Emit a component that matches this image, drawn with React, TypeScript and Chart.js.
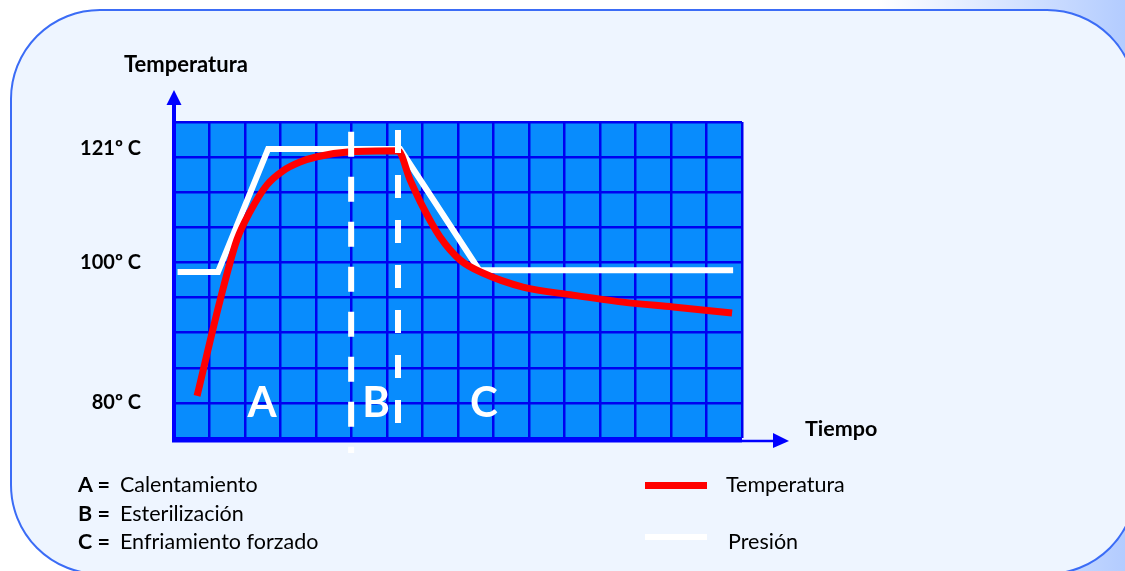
import React, { useEffect, useRef } from "react";
import { Chart, registerables } from "chart.js";

Chart.register(...registerables);

// grid units: x 0..16 columns, y 0..9 rows
const xMin = 0;
const xMax = 16;
const yMin = 0;
const yMax = 9;

const tickValues = [1, 5, 8.25];
const tickLabels = ["80º C", "100º C", "121º C"];

const presionX = [0.1, 1.24, 2.65, 6.37, 8.6, 15.75];
const presionY = [4.73, 4.73, 8.23, 8.23, 4.78, 4.78];

const tempX = [0.65, 1.3, 1.77, 2.14, 2.62, 3.07, 3.55, 4.03, 4.96, 6.31, 6.65, 7.01, 7.49, 8.06, 8.7, 9.83, 11.24, 12.65, 14.06, 15.72];
const tempY = [1.2, 3.93, 5.64, 6.44, 7.21, 7.61, 7.86, 8.01, 8.15, 8.18, 7.35, 6.58, 5.73, 5.07, 4.7, 4.3, 4.07, 3.87, 3.73, 3.56];

const dash1X = [4.99, 4.99];
const dash1Y = [8.72, -0.43];
const dash2X = [6.31, 6.31];
const dash2Y = [8.77, 0.43];

const phaseLabels = ["A", "B", "C"];
const legendKeys = ["A =", "B =", "C ="];
const legendTexts = ["Calentamiento", "Esterilización", "Enfriamiento forzado"];
const seriesNames = ["Temperatura", "Presión"];

const FONT = "Lato, 'Open Sans', sans-serif";

const pts = (xs: number[], ys: number[]) => xs.map((x, i) => ({ x, y: ys[i] }));

const decorPlugin = {
  id: "decor",
  beforeDraw(chart: any) {
    const { ctx, chartArea: a } = chart;
    ctx.save();
    ctx.fillStyle = "#088cfd";
    ctx.fillRect(a.left, a.top, a.right - a.left, a.bottom - a.top);
    ctx.restore();
  },
  afterDraw(chart: any) {
    const { ctx, chartArea: a } = chart;
    ctx.save();
    ctx.strokeStyle = "#0000ff";
    ctx.fillStyle = "#0000ff";
    // y axis
    ctx.lineWidth = 4;
    ctx.beginPath();
    ctx.moveTo(a.left, a.bottom + 3);
    ctx.lineTo(a.left, 103);
    ctx.stroke();
    ctx.beginPath();
    ctx.moveTo(a.left - 7.5, 105);
    ctx.lineTo(a.left + 7.5, 105);
    ctx.lineTo(a.left, 90);
    ctx.closePath();
    ctx.fill();
    // x axis
    ctx.lineWidth = 5;
    ctx.beginPath();
    ctx.moveTo(a.left - 2, a.bottom + 2);
    ctx.lineTo(a.right, a.bottom + 2);
    ctx.stroke();
    ctx.lineWidth = 2.5;
    ctx.beginPath();
    ctx.moveTo(a.right, a.bottom + 3);
    ctx.lineTo(776, a.bottom + 3);
    ctx.stroke();
    ctx.beginPath();
    ctx.moveTo(773, a.bottom - 5);
    ctx.lineTo(773, a.bottom + 10);
    ctx.lineTo(789, a.bottom + 3);
    ctx.closePath();
    ctx.fill();
    ctx.restore();
  },
};

export default function App() {
  const ref = useRef<HTMLCanvasElement>(null);

  useEffect(() => {
    if (!ref.current) return;
    const chart = new Chart(ref.current, {
      type: "line",
      data: {
        datasets: [
          {
            label: "dash1",
            data: pts(dash1X, dash1Y),
            borderColor: "#ffffff",
            borderWidth: 6,
            borderDash: [25, 20],
            pointRadius: 0,
            clip: false as any,
            order: 0,
          },
          {
            label: "dash2",
            data: pts(dash2X, dash2Y),
            borderColor: "#ffffff",
            borderWidth: 6,
            borderDash: [23, 22],
            pointRadius: 0,
            clip: false as any,
            order: 0,
          },
          {
            label: seriesNames[0],
            data: pts(tempX, tempY),
            borderColor: "#ff0000",
            borderWidth: 7,
            cubicInterpolationMode: "monotone",
            pointRadius: 0,
            order: 1,
          },
          {
            label: seriesNames[1],
            data: pts(presionX, presionY),
            borderColor: "#ffffff",
            borderWidth: 6,
            tension: 0,
            pointRadius: 0,
            order: 2,
          },
        ],
      },
      options: {
        animation: false,
        responsive: false,
        events: [],
        layout: { padding: { top: 122, right: 383, bottom: 133, left: 0 } },
        plugins: { legend: { display: false }, tooltip: { enabled: false }, title: { display: false } },
        scales: {
          x: {
            type: "linear",
            min: xMin,
            max: xMax,
            ticks: { display: false, stepSize: 1 },
            grid: { color: "#0000f0", lineWidth: 2.5, drawTicks: false },
            border: { display: false },
            afterFit: (s: any) => { s.height = 0; },
          },
          y: {
            type: "linear",
            position: "left",
            min: yMin,
            max: yMax,
            ticks: { display: false, stepSize: 1 },
            grid: { color: "#0000f0", lineWidth: 2.5, drawTicks: false },
            border: { display: false },
            afterFit: (s: any) => { s.width = 0; },
          },
          yl: {
            type: "linear",
            position: "left",
            min: yMin,
            max: yMax,
            afterBuildTicks: (s: any) => { s.ticks = tickValues.map((v) => ({ value: v })); },
            ticks: {
              autoSkip: false,
              padding: 33,
              color: "#000000",
              font: { family: FONT, size: 20, weight: "bold" },
              callback: (_v: any, i: number) => tickLabels[i],
            },
            grid: { display: false, drawTicks: false },
            border: { display: false },
            afterFit: (s: any) => { s.width = 174; },
          },
        },
      } as any,
      plugins: [decorPlugin],
    });
    return () => chart.destroy();
  }, []);

  const txt = (left: number, cy: number, s: string, size: number, bold: boolean, color = "#000") => (
    <div
      key={s + left + cy}
      style={{
        position: "absolute",
        left,
        top: cy,
        transform: "translateY(-50%)",
        fontFamily: FONT,
        fontSize: size,
        fontWeight: bold ? 700 : 400,
        color,
        lineHeight: 1,
        whiteSpace: "nowrap",
      }}
    >
      {s}
    </div>
  );

  const phaseX = [262, 376, 484];

  return (
    <div
      style={{
        position: "absolute",
        left: 0,
        top: 0,
        width: 1125,
        height: 571,
        overflow: "hidden",
        background: "linear-gradient(to right, #ffffff 0%, #ffffff 78%, #b3ccff 100%)",
      }}
    >
      <div
        style={{
          position: "absolute",
          left: 10,
          top: 9,
          width: 1127,
          height: 566,
          boxSizing: "border-box",
          border: "2px solid #3b6cf6",
          borderRadius: 90,
          background: "#eef5ff",
        }}
      />
      <canvas ref={ref} width={1125} height={571} style={{ position: "absolute", left: 0, top: 0, width: 1125, height: 571 }} />
      {txt(124, 64, "Temperatura", 22, true)}
      {txt(805, 429, "Tiempo", 21.5, true)}
      {phaseLabels.map((p, i) => (
        <div
          key={p}
          style={{
            position: "absolute",
            left: phaseX[i],
            top: 401,
            transform: "translate(-50%, -50%)",
            fontFamily: FONT,
            fontSize: 42,
            fontWeight: 700,
            color: "#ffffff",
            lineHeight: 1,
          }}
        >
          {p}
        </div>
      ))}
      {legendKeys.map((k, i) => txt(78, 485 + i * 28.5, k, 21.5, true))}
      {legendTexts.map((t, i) => txt(120, 485 + i * 28.5, t, 21.5, false))}
      <div style={{ position: "absolute", left: 645, top: 482, width: 62, height: 7, background: "#ff0000" }} />
      <div style={{ position: "absolute", left: 645, top: 534, width: 62, height: 6, background: "#ffffff" }} />
      {txt(726, 485, seriesNames[0], 21.5, false)}
      {txt(728, 542, seriesNames[1], 21.5, false)}
    </div>
  );
}
